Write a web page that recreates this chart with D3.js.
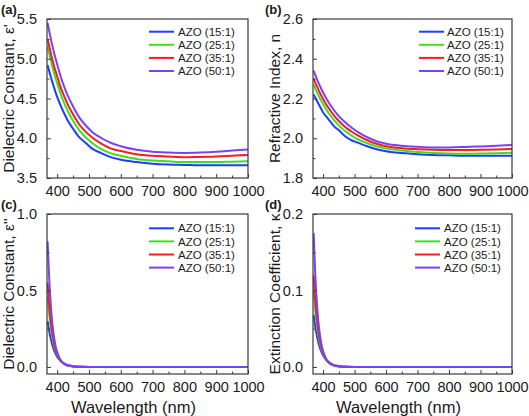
<!DOCTYPE html>
<html>
<head>
<meta charset="utf-8">
<script src="https://cdn.jsdelivr.net/npm/d3@7"></script>
<style>
  html, body { margin: 0; padding: 0; background: #fff; }
  svg { display: block; font-family: "Liberation Sans", Arial, sans-serif; }
</style>
</head>
<body>
<svg id="chart" width="529" height="416"></svg>
<script>
// ---------------- data ----------------
const seriesNames = ["AZO (15:1)", "AZO (25:1)", "AZO (35:1)", "AZO (50:1)"];
const seriesColors = ["#1f3cff", "#3ee01e", "#f51d1d", "#7b42f2"];

// wavelength grid (nm) for panels (a) and (b)
const wlSmooth = [370, 380, 390, 400, 410, 420, 435, 450, 470, 490, 510, 540, 570, 600, 650, 700, 750, 800, 850, 900, 950, 1000];

// (a) real part of dielectric constant, eps'
const epsReal15 = [4.92, 4.77, 4.64, 4.52, 4.42, 4.33, 4.21, 4.12, 4.01, 3.94, 3.87, 3.81, 3.76, 3.73, 3.70, 3.68, 3.67, 3.665, 3.66, 3.66, 3.66, 3.66];
const epsReal25 = [5.15, 4.98, 4.82, 4.69, 4.57, 4.46, 4.33, 4.22, 4.10, 4.01, 3.94, 3.86, 3.81, 3.78, 3.74, 3.72, 3.71, 3.70, 3.70, 3.70, 3.705, 3.71];
const epsReal35 = [5.25, 5.07, 4.91, 4.78, 4.65, 4.55, 4.41, 4.30, 4.17, 4.08, 4.01, 3.93, 3.87, 3.84, 3.80, 3.78, 3.77, 3.76, 3.765, 3.77, 3.78, 3.79];
const epsReal50 = [5.45, 5.25, 5.08, 4.93, 4.79, 4.67, 4.52, 4.40, 4.26, 4.16, 4.08, 4.00, 3.94, 3.90, 3.855, 3.83, 3.82, 3.815, 3.82, 3.83, 3.845, 3.86];

// (b) refractive index, n
const nIdx15 = [2.22, 2.19, 2.16, 2.13, 2.11, 2.09, 2.06, 2.04, 2.01, 1.99, 1.978, 1.96, 1.945, 1.935, 1.926, 1.92, 1.916, 1.914, 1.912, 1.912, 1.912, 1.912];
const nIdx25 = [2.27, 2.233, 2.201, 2.172, 2.145, 2.122, 2.091, 2.065, 2.036, 2.014, 1.995, 1.975, 1.96, 1.949, 1.938, 1.931, 1.926, 1.923, 1.922, 1.923, 1.925, 1.927];
const nIdx35 = [2.30, 2.262, 2.228, 2.198, 2.17, 2.146, 2.114, 2.087, 2.057, 2.034, 2.014, 1.99, 1.972, 1.96, 1.95, 1.945, 1.942, 1.941, 1.941, 1.942, 1.944, 1.946];
const nIdx50 = [2.34, 2.299, 2.263, 2.23, 2.201, 2.175, 2.141, 2.111, 2.08, 2.054, 2.032, 2.005, 1.985, 1.972, 1.962, 1.957, 1.954, 1.954, 1.956, 1.959, 1.962, 1.966];

// wavelength grid (nm) for panels (c) and (d)
const wlEdge = [370, 375, 380, 385, 390, 395, 400, 410, 420, 430, 440, 450, 460, 480, 500, 600, 700, 800, 900, 1000];

// (c) imaginary part of dielectric constant, eps''
const epsImag15 = [0.30, 0.234, 0.182, 0.142, 0.11, 0.086, 0.067, 0.041, 0.025, 0.015, 0.009, 0.0055, 0.0033, 0.0012, 0.0004, 0, 0, 0, 0, 0];
const epsImag25 = [0.46, 0.343, 0.255, 0.19, 0.142, 0.106, 0.079, 0.044, 0.024, 0.013, 0.0075, 0.004, 0.0023, 0.0007, 0.0002, 0, 0, 0, 0, 0];
const epsImag35 = [0.55, 0.403, 0.294, 0.216, 0.158, 0.116, 0.084, 0.045, 0.024, 0.013, 0.007, 0.0037, 0.002, 0.0006, 0.0002, 0, 0, 0, 0, 0];
const epsImag50 = [0.82, 0.574, 0.402, 0.281, 0.197, 0.138, 0.097, 0.047, 0.023, 0.011, 0.0055, 0.0027, 0.0013, 0.0003, 0, 0, 0, 0, 0, 0];

// (d) extinction coefficient, kappa
const kappa15 = [0.068, 0.053, 0.0413, 0.0321, 0.025, 0.0195, 0.0152, 0.0092, 0.0056, 0.0034, 0.002, 0.0012, 0.0007, 0.0003, 0.0001, 0, 0, 0, 0, 0];
const kappa25 = [0.10, 0.0745, 0.0555, 0.0414, 0.0308, 0.023, 0.0171, 0.0095, 0.0053, 0.0029, 0.0016, 0.0009, 0.0005, 0.0002, 0, 0, 0, 0, 0, 0];
const kappa35 = [0.12, 0.0878, 0.0642, 0.047, 0.0344, 0.0252, 0.0184, 0.0098, 0.0053, 0.0028, 0.0015, 0.0008, 0.0004, 0.0001, 0, 0, 0, 0, 0, 0];
const kappa50 = [0.175, 0.1225, 0.0858, 0.060, 0.042, 0.0294, 0.0207, 0.010, 0.0049, 0.0024, 0.0012, 0.0006, 0.0003, 0.0001, 0, 0, 0, 0, 0, 0];

// ticks
const xMajorTicks = [400, 500, 600, 700, 800, 900, 1000];
const xMinorTicks = [450, 550, 650, 750, 850, 950];
const yTicksA = [3.5, 4.0, 4.5, 5.0, 5.5];
const yTicksB = [1.8, 2.0, 2.2, 2.4, 2.6];
const yTicksC = [0.0, 0.5, 1.0];
const yTicksD = [0.0, 0.1, 0.2];

// ---------------- layout ----------------
const panels = [
  { tag: "(a)", box: [47, 19, 248, 178], yDomain: [3.5, 5.5], yTicks: yTicksA, yMinor: [3.75, 4.25, 4.75, 5.25],
    yTitle: "Dielectric Constant, \u03b5'", xs: wlSmooth, ys: [epsReal15, epsReal25, epsReal35, epsReal50],
    legend: [149, 31.7, 178], xTitle: false, tagPos: [1, 14] },
  { tag: "(b)", box: [313, 19, 512, 178], yDomain: [1.8, 2.6], yTicks: yTicksB, yMinor: [1.9, 2.1, 2.3, 2.5],
    yTitle: "Refractive Index, n", xs: wlSmooth, ys: [nIdx15, nIdx25, nIdx35, nIdx50],
    legend: [419, 31.7, 447], xTitle: false, tagPos: [265, 14] },
  { tag: "(c)", box: [47, 214, 248, 374], yDomain: [-0.046, 1.0], yTicks: yTicksC, yMinor: [0.25, 0.75],
    yTitle: "Dielectric Constant, \u03b5''", xs: wlEdge, ys: [epsImag15, epsImag25, epsImag35, epsImag50],
    legend: [149, 228.3, 178], xTitle: true, tagPos: [1, 209] },
  { tag: "(d)", box: [313, 214, 512, 374], yDomain: [-0.0092, 0.2], yTicks: yTicksD, yMinor: [0.05, 0.15],
    yTitle: "Extinction Coefficient, \u03ba", xs: wlEdge, ys: [kappa15, kappa25, kappa35, kappa50],
    legend: [415, 228.3, 444], xTitle: true, tagPos: [265, 209] }
];

const svg = d3.select("#chart");
const axisColor = "#3a3a3a";
const textColor = "#1a1a1a";

panels.forEach((p, pi) => {
  const [x0, y0, x1, y1] = p.box;
  const x = d3.scaleLinear().domain([368, 1000]).range([x0, x1]);
  const y = d3.scaleLinear().domain(p.yDomain).range([y1, y0]);
  const g = svg.append("g");

  const clipId = "clip" + pi;
  svg.append("clipPath").attr("id", clipId)
    .append("rect").attr("x", x0).attr("y", y0).attr("width", x1 - x0).attr("height", y1 - y0);

  // lines
  const line = d3.line().curve(d3.curveMonotoneX);
  p.ys.forEach((vals, si) => {
    const pts = p.xs.map((w, i) => [x(w), y(vals[i])]);
    g.append("path")
      .attr("clip-path", `url(#${clipId})`)
      .attr("d", line(pts))
      .attr("fill", "none")
      .attr("stroke", seriesColors[si])
      .attr("stroke-width", 2);
  });

  // x axis
  const xAxis = g.append("g").attr("transform", `translate(0,${y1})`)
    .call(d3.axisBottom(x).tickValues(xMajorTicks).tickSizeInner(-4).tickSizeOuter(0).tickPadding(8).tickFormat(d3.format("d")));
  g.append("g").attr("transform", `translate(0,${y1})`)
    .call(d3.axisBottom(x).tickValues(xMinorTicks).tickSizeInner(-2.5).tickSizeOuter(0).tickFormat(""));
  // y axis
  const yAxis = g.append("g").attr("transform", `translate(${x0},0)`)
    .call(d3.axisLeft(y).tickValues(p.yTicks).tickSizeInner(-4).tickSizeOuter(0).tickPadding(10).tickFormat(d3.format(".1f")));
  g.append("g").attr("transform", `translate(${x0},0)`)
    .call(d3.axisLeft(y).tickValues(p.yMinor).tickSizeInner(-2.5).tickSizeOuter(0).tickFormat(""));

  g.selectAll(".domain").remove();
  g.selectAll(".tick line").attr("stroke", axisColor).attr("stroke-width", 1);
  g.selectAll(".tick text").attr("fill", textColor).style("font-size", "14.5px").style("font-family", '"Liberation Sans", Arial, sans-serif');

  // frame
  g.append("rect").attr("x", x0).attr("y", y0).attr("width", x1 - x0).attr("height", y1 - y0)
    .attr("fill", "none").attr("stroke", axisColor).attr("stroke-width", 1.2);

  // y title
  g.append("text")
    .attr("transform", `translate(${x0 - 33},${(y0 + y1) / 2}) rotate(-90)`)
    .attr("text-anchor", "middle")
    .attr("fill", textColor)
    .style("font-size", "15.5px")
    .text(p.yTitle);

  // x title
  if (p.xTitle) {
    g.append("text")
      .attr("x", (x0 + x1) / 2 - 14)
      .attr("y", 413)
      .attr("text-anchor", "middle")
      .attr("fill", textColor)
      .style("font-size", "16.5px")
      .text("Wavelength (nm)");
  }

  // panel tag
  g.append("text")
    .attr("x", p.tagPos[0]).attr("y", p.tagPos[1])
    .attr("fill", textColor)
    .style("font-size", "13px").style("font-weight", "bold")
    .text(p.tag);

  // legend
  const [lx0, ly0, tx] = p.legend;
  seriesNames.forEach((name, si) => {
    const ly = ly0 + si * 13.1;
    g.append("line").attr("x1", lx0).attr("x2", lx0 + 25).attr("y1", ly).attr("y2", ly)
      .attr("stroke", seriesColors[si]).attr("stroke-width", 2);
    g.append("text").attr("x", tx).attr("y", ly).attr("dy", "0.36em")
      .attr("fill", textColor).style("font-size", "11.5px").text(name);
  });
});
</script>
</body>
</html>
